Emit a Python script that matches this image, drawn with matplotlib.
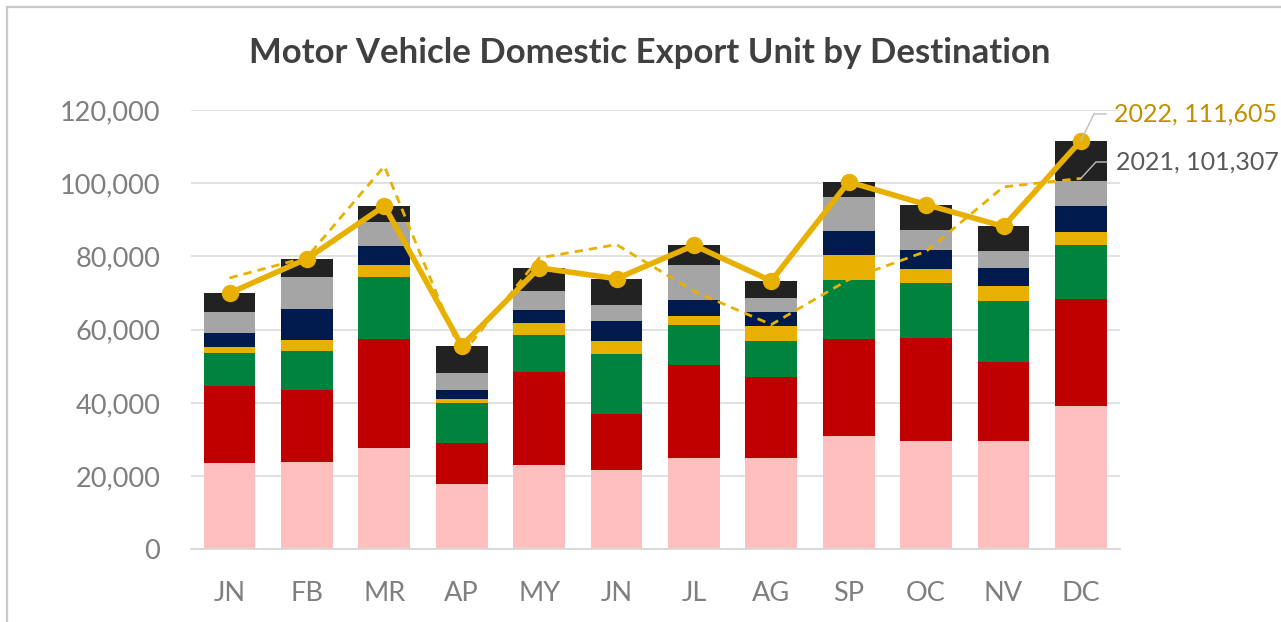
import matplotlib.pyplot as plt
from matplotlib.lines import Line2D
from matplotlib.patches import Rectangle
from matplotlib.transforms import IdentityTransform
from matplotlib.ticker import FuncFormatter
import numpy as np

plt.rcParams['font.family'] = ['Lato', 'DejaVu Sans']

months = ['JN', 'FB', 'MR', 'AP', 'MY', 'JN', 'JL', 'AG', 'SP', 'OC', 'NV', 'DC']

# stacked destinations, bottom to top
dest1 = [23560, 24000, 27830, 17820, 23010, 21650, 24930, 24930, 31030, 29750, 29750, 39040]
dest2 = [20940, 19410, 29620, 11290, 25320, 15390, 25420, 22030, 26420, 27880, 21500, 29340]
dest3 = [9130, 10850, 16850, 10750, 10300, 16210, 10830, 9840, 16220, 15030, 16680, 14670]
dest4 = [1640, 3010, 3470, 1090, 3090, 3740, 2650, 4290, 6740, 3920, 4000, 3550]
dest5 = [3830, 8470, 5190, 2460, 3560, 5280, 4180, 3750, 6650, 5290, 4830, 7110]
dest6 = [5630, 8560, 6370, 4840, 5190, 4480, 9760, 3720, 9110, 5460, 4840, 7020]
dest7 = [5270, 5100, 4470, 7380, 6430, 7190, 5280, 4750, 4200, 6840, 6600, 10875]

total_2022 = [70000, 79400, 93800, 55630, 76900, 73940, 83050, 73310, 100370, 94170, 88200, 111605]
total_2021 = [74130, 79800, 104640, 53170, 79600, 83250, 70500, 61400, 73700, 81400, 99000, 101307]

colors = ['#FFBFBF', '#C00000', '#00843D', '#E8B000', '#001A4D', '#A5A5A5', '#222222']
gold = '#E8B000'

fig = plt.figure(figsize=(12.81, 6.22), dpi=100)
ax = fig.add_axes([0.149, 0.1166, 0.725, 0.7066])

x = np.arange(len(months))
bottom = np.zeros(len(months))
for vals, c in zip([dest1, dest2, dest3, dest4, dest5, dest6, dest7], colors):
    ax.bar(x, vals, 0.67, bottom=bottom, color=c, zorder=2)
    bottom += np.array(vals)

ax.plot(x, total_2021, color=gold, lw=2, ls=(0, (3, 2.2)), zorder=3)
ax.plot(x, total_2022, color=gold, lw=4, marker='o', ms=11.5, zorder=4)

ax.set_xlim(-0.5, 11.5)
ax.set_ylim(0, 120000)
ax.set_yticks(range(0, 120001, 20000))
ax.yaxis.set_major_formatter(FuncFormatter(lambda v, p: f'{int(v):,}'))
ax.set_xticks(x)
ax.set_xticklabels(months)
ax.grid(axis='y', color='#D9D9D9', lw=1.1, zorder=0)
ax.set_axisbelow(True)
for s in ['top', 'right', 'left']:
    ax.spines[s].set_visible(False)
ax.spines['bottom'].set_color('#D9D9D9')
ax.spines['bottom'].set_linewidth(1.3)
ax.tick_params(axis='both', length=0, labelsize=19.5, labelcolor='#7F7F7F')
ax.tick_params(axis='y', pad=22)
ax.tick_params(axis='x', pad=23)

fig.text(0.507, 0.914, 'Motor Vehicle Domestic Export Unit by Destination',
         ha='center', va='center', fontsize=25, fontweight='bold', color='#404040')

# chart border
fig.add_artist(Rectangle((7, -10), 1400, 625, transform=IdentityTransform(),
                         fill=False, edgecolor='#C8C8C8', lw=1.6))

# data labels with leader lines
fig.canvas.draw()
H = 622
px, py = ax.transData.transform((11, total_2022[11]))
fig.add_artist(Line2D([px, px + 13, px + 25], [py, H - 114, H - 114],
                      transform=IdentityTransform(), color='#BFBFBF', lw=1, zorder=5))
fig.text((px + 33) / 1281, (H - 114) / H, f'2022, {total_2022[11]:,}', ha='left', va='center',
         fontsize=18, color='#BF9000')
px, py = ax.transData.transform((11, total_2021[11]))
fig.add_artist(Line2D([px, px + 15, px + 26], [py, H - 162, H - 162],
                      transform=IdentityTransform(), color='#BFBFBF', lw=1, zorder=5))
fig.text((px + 35) / 1281, (H - 162) / H, f'2021, {total_2021[11]:,}', ha='left', va='center',
         fontsize=18, color='#595959')

fig.savefig('out.png', dpi=100)
